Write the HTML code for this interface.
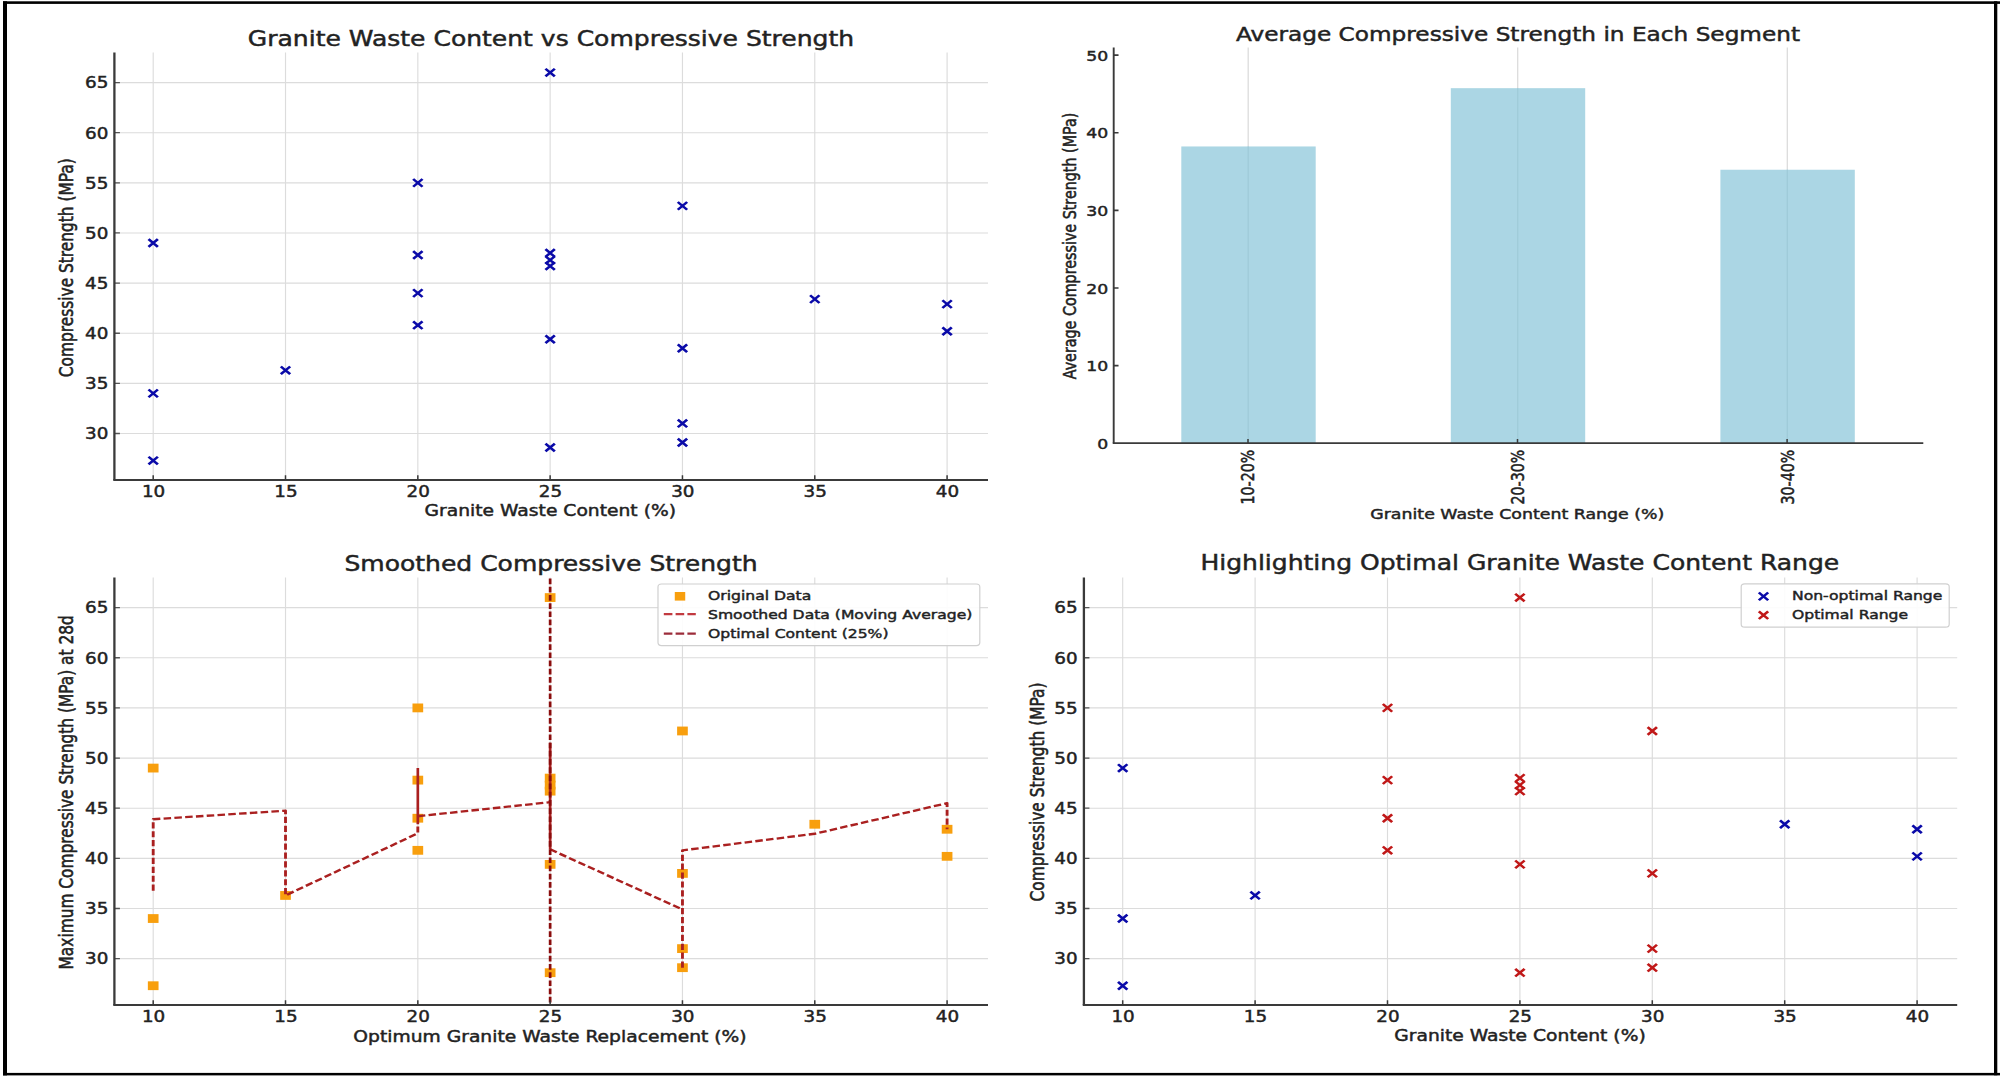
<!DOCTYPE html>
<html lang="en"><head><meta charset="utf-8"><title>Granite Waste Content vs Compressive Strength</title>
<style>html,body{margin:0;padding:0;background:#fff}body{width:2000px;height:1078px;overflow:hidden}svg{display:block}svg text{font-family:"DejaVu Sans", "Liberation Sans", sans-serif;}</style></head><body>
<svg width="2000" height="1078" viewBox="0 0 2000 1078">
<rect x="0" y="0" width="2000" height="1078" fill="#ffffff"/>
<g id="charts">
<path d="M153.20,52.6V480.0M285.51,52.6V480.0M417.83,52.6V480.0M550.14,52.6V480.0M682.46,52.6V480.0M814.78,52.6V480.0M947.09,52.6V480.0M114.4,433.48H988.0M114.4,383.35H988.0M114.4,333.23H988.0M114.4,283.10H988.0M114.4,232.97H988.0M114.4,182.85H988.0M114.4,132.72H988.0M114.4,82.60H988.0" stroke="#dcdcdc" stroke-width="1.15" fill="none"/>
<path transform="translate(153.20,243.00) scale(1.215,1)" d="M-3.85,-3.85L3.85,3.85M-3.85,3.85L3.85,-3.85" stroke="#0a0aa8" stroke-width="2.3" fill="none"/>
<path transform="translate(153.20,393.38) scale(1.215,1)" d="M-3.85,-3.85L3.85,3.85M-3.85,3.85L3.85,-3.85" stroke="#0a0aa8" stroke-width="2.3" fill="none"/>
<path transform="translate(153.20,460.54) scale(1.215,1)" d="M-3.85,-3.85L3.85,3.85M-3.85,3.85L3.85,-3.85" stroke="#0a0aa8" stroke-width="2.3" fill="none"/>
<path transform="translate(285.51,370.32) scale(1.215,1)" d="M-3.85,-3.85L3.85,3.85M-3.85,3.85L3.85,-3.85" stroke="#0a0aa8" stroke-width="2.3" fill="none"/>
<path transform="translate(417.83,182.85) scale(1.215,1)" d="M-3.85,-3.85L3.85,3.85M-3.85,3.85L3.85,-3.85" stroke="#0a0aa8" stroke-width="2.3" fill="none"/>
<path transform="translate(417.83,255.03) scale(1.215,1)" d="M-3.85,-3.85L3.85,3.85M-3.85,3.85L3.85,-3.85" stroke="#0a0aa8" stroke-width="2.3" fill="none"/>
<path transform="translate(417.83,293.12) scale(1.215,1)" d="M-3.85,-3.85L3.85,3.85M-3.85,3.85L3.85,-3.85" stroke="#0a0aa8" stroke-width="2.3" fill="none"/>
<path transform="translate(417.83,325.21) scale(1.215,1)" d="M-3.85,-3.85L3.85,3.85M-3.85,3.85L3.85,-3.85" stroke="#0a0aa8" stroke-width="2.3" fill="none"/>
<path transform="translate(550.14,72.57) scale(1.215,1)" d="M-3.85,-3.85L3.85,3.85M-3.85,3.85L3.85,-3.85" stroke="#0a0aa8" stroke-width="2.3" fill="none"/>
<path transform="translate(550.14,253.03) scale(1.215,1)" d="M-3.85,-3.85L3.85,3.85M-3.85,3.85L3.85,-3.85" stroke="#0a0aa8" stroke-width="2.3" fill="none"/>
<path transform="translate(550.14,260.04) scale(1.215,1)" d="M-3.85,-3.85L3.85,3.85M-3.85,3.85L3.85,-3.85" stroke="#0a0aa8" stroke-width="2.3" fill="none"/>
<path transform="translate(550.14,266.06) scale(1.215,1)" d="M-3.85,-3.85L3.85,3.85M-3.85,3.85L3.85,-3.85" stroke="#0a0aa8" stroke-width="2.3" fill="none"/>
<path transform="translate(550.14,339.24) scale(1.215,1)" d="M-3.85,-3.85L3.85,3.85M-3.85,3.85L3.85,-3.85" stroke="#0a0aa8" stroke-width="2.3" fill="none"/>
<path transform="translate(550.14,447.51) scale(1.215,1)" d="M-3.85,-3.85L3.85,3.85M-3.85,3.85L3.85,-3.85" stroke="#0a0aa8" stroke-width="2.3" fill="none"/>
<path transform="translate(682.46,205.91) scale(1.215,1)" d="M-3.85,-3.85L3.85,3.85M-3.85,3.85L3.85,-3.85" stroke="#0a0aa8" stroke-width="2.3" fill="none"/>
<path transform="translate(682.46,348.26) scale(1.215,1)" d="M-3.85,-3.85L3.85,3.85M-3.85,3.85L3.85,-3.85" stroke="#0a0aa8" stroke-width="2.3" fill="none"/>
<path transform="translate(682.46,423.45) scale(1.215,1)" d="M-3.85,-3.85L3.85,3.85M-3.85,3.85L3.85,-3.85" stroke="#0a0aa8" stroke-width="2.3" fill="none"/>
<path transform="translate(682.46,442.50) scale(1.215,1)" d="M-3.85,-3.85L3.85,3.85M-3.85,3.85L3.85,-3.85" stroke="#0a0aa8" stroke-width="2.3" fill="none"/>
<path transform="translate(814.78,299.14) scale(1.215,1)" d="M-3.85,-3.85L3.85,3.85M-3.85,3.85L3.85,-3.85" stroke="#0a0aa8" stroke-width="2.3" fill="none"/>
<path transform="translate(947.09,304.15) scale(1.215,1)" d="M-3.85,-3.85L3.85,3.85M-3.85,3.85L3.85,-3.85" stroke="#0a0aa8" stroke-width="2.3" fill="none"/>
<path transform="translate(947.09,331.22) scale(1.215,1)" d="M-3.85,-3.85L3.85,3.85M-3.85,3.85L3.85,-3.85" stroke="#0a0aa8" stroke-width="2.3" fill="none"/>
<path d="M153.20,480.0v-4.8M285.51,480.0v-4.8M417.83,480.0v-4.8M550.14,480.0v-4.8M682.46,480.0v-4.8M814.78,480.0v-4.8M947.09,480.0v-4.8" stroke="#3a3a3a" stroke-width="1.5" fill="none"/>
<path d="M114.4,433.48h5.52M114.4,383.35h5.52M114.4,333.23h5.52M114.4,283.10h5.52M114.4,232.97h5.52M114.4,182.85h5.52M114.4,132.72h5.52M114.4,82.60h5.52" stroke="#555" stroke-width="1.3" fill="none"/>
<path d="M114.4,52.6V480.0" stroke="#3a3a3a" stroke-width="2.3" fill="none"/>
<path d="M113.25,480.0H988.0" stroke="#3a3a3a" stroke-width="1.9" fill="none"/>
<text transform="translate(153.60,496.80) scale(1.16,1)" font-size="15.8" text-anchor="middle" fill="#222" stroke="#222" stroke-width="0.45">10</text>
<text transform="translate(285.91,496.80) scale(1.16,1)" font-size="15.8" text-anchor="middle" fill="#222" stroke="#222" stroke-width="0.45">15</text>
<text transform="translate(418.23,496.80) scale(1.16,1)" font-size="15.8" text-anchor="middle" fill="#222" stroke="#222" stroke-width="0.45">20</text>
<text transform="translate(550.54,496.80) scale(1.16,1)" font-size="15.8" text-anchor="middle" fill="#222" stroke="#222" stroke-width="0.45">25</text>
<text transform="translate(682.86,496.80) scale(1.16,1)" font-size="15.8" text-anchor="middle" fill="#222" stroke="#222" stroke-width="0.45">30</text>
<text transform="translate(815.18,496.80) scale(1.16,1)" font-size="15.8" text-anchor="middle" fill="#222" stroke="#222" stroke-width="0.45">35</text>
<text transform="translate(947.49,496.80) scale(1.16,1)" font-size="15.8" text-anchor="middle" fill="#222" stroke="#222" stroke-width="0.45">40</text>
<text transform="translate(108.30,439.28) scale(1.16,1)" font-size="15.8" text-anchor="end" fill="#222" stroke="#222" stroke-width="0.45">30</text>
<text transform="translate(108.30,389.15) scale(1.16,1)" font-size="15.8" text-anchor="end" fill="#222" stroke="#222" stroke-width="0.45">35</text>
<text transform="translate(108.30,339.03) scale(1.16,1)" font-size="15.8" text-anchor="end" fill="#222" stroke="#222" stroke-width="0.45">40</text>
<text transform="translate(108.30,288.90) scale(1.16,1)" font-size="15.8" text-anchor="end" fill="#222" stroke="#222" stroke-width="0.45">45</text>
<text transform="translate(108.30,238.78) scale(1.16,1)" font-size="15.8" text-anchor="end" fill="#222" stroke="#222" stroke-width="0.45">50</text>
<text transform="translate(108.30,188.65) scale(1.16,1)" font-size="15.8" text-anchor="end" fill="#222" stroke="#222" stroke-width="0.45">55</text>
<text transform="translate(108.30,138.53) scale(1.16,1)" font-size="15.8" text-anchor="end" fill="#222" stroke="#222" stroke-width="0.45">60</text>
<text transform="translate(108.30,88.40) scale(1.16,1)" font-size="15.8" text-anchor="end" fill="#222" stroke="#222" stroke-width="0.45">65</text>
<text transform="translate(551.00,45.50) scale(1.215,1)" font-size="20.6" text-anchor="middle" fill="#222" stroke="#222" stroke-width="0.45">Granite Waste Content vs Compressive Strength</text>
<text transform="translate(550.30,516.00) scale(1.215,1)" font-size="15.4" text-anchor="middle" fill="#222" stroke="#222" stroke-width="0.45">Granite Waste Content (%)</text>
<text transform="translate(72.80,267.70) scale(1.215,1) rotate(-90)" font-size="15.4" text-anchor="middle" fill="#222" stroke="#222" stroke-width="0.45">Compressive Strength (MPa)</text>
<path d="M1248.20,47.6V443.2M1517.70,47.6V443.2M1787.30,47.6V443.2" stroke="#dcdcdc" stroke-width="1.3" fill="none"/>
<rect x="1181.30" y="146.46" width="134.40" height="296.74" fill="#abd6e4"/>
<rect x="1450.80" y="88.17" width="134.40" height="355.03" fill="#abd6e4"/>
<rect x="1720.40" y="169.74" width="134.40" height="273.46" fill="#abd6e4"/>
<path d="M1248.20,146.46V443.2M1517.70,88.17V443.2M1787.30,169.74V443.2" stroke="#9fcbd9" stroke-width="1.3" fill="none"/>
<path d="M1248.00,443.2v-4.2M1517.50,443.2v-4.2M1787.10,443.2v-4.2" stroke="#3a3a3a" stroke-width="1.5" fill="none"/>
<path d="M1113.7,365.58h4.83M1113.7,287.96h4.83M1113.7,210.34h4.83M1113.7,132.72h4.83M1113.7,55.10h4.83" stroke="#3a3a3a" stroke-width="1.6" fill="none"/>
<path d="M1113.7,47.6V443.2" stroke="#3a3a3a" stroke-width="1.9" fill="none"/>
<path d="M1112.75,443.2H1923.3" stroke="#3a3a3a" stroke-width="1.8" fill="none"/>
<text transform="translate(1108.30,448.90) scale(1.215,1)" font-size="14.2" text-anchor="end" fill="#222" stroke="#222" stroke-width="0.45">0</text>
<text transform="translate(1108.30,371.28) scale(1.215,1)" font-size="14.2" text-anchor="end" fill="#222" stroke="#222" stroke-width="0.45">10</text>
<text transform="translate(1108.30,293.66) scale(1.215,1)" font-size="14.2" text-anchor="end" fill="#222" stroke="#222" stroke-width="0.45">20</text>
<text transform="translate(1108.30,216.04) scale(1.215,1)" font-size="14.2" text-anchor="end" fill="#222" stroke="#222" stroke-width="0.45">30</text>
<text transform="translate(1108.30,138.42) scale(1.215,1)" font-size="14.2" text-anchor="end" fill="#222" stroke="#222" stroke-width="0.45">40</text>
<text transform="translate(1108.30,60.80) scale(1.215,1)" font-size="14.2" text-anchor="end" fill="#222" stroke="#222" stroke-width="0.45">50</text>
<text transform="translate(1254.40,449.80) scale(1.215,1) rotate(-90)" font-size="14.2" text-anchor="end" fill="#222" stroke="#222" stroke-width="0.45">10-20%</text>
<text transform="translate(1523.90,449.80) scale(1.215,1) rotate(-90)" font-size="14.2" text-anchor="end" fill="#222" stroke="#222" stroke-width="0.45">20-30%</text>
<text transform="translate(1793.50,449.80) scale(1.215,1) rotate(-90)" font-size="14.2" text-anchor="end" fill="#222" stroke="#222" stroke-width="0.45">30-40%</text>
<text transform="translate(1518.00,41.30) scale(1.215,1)" font-size="19.1" text-anchor="middle" fill="#222" stroke="#222" stroke-width="0.45">Average Compressive Strength in Each Segment</text>
<text transform="translate(1517.30,518.70) scale(1.215,1)" font-size="14.3" text-anchor="middle" fill="#222" stroke="#222" stroke-width="0.45">Granite Waste Content Range (%)</text>
<text transform="translate(1076.10,246.00) scale(1.215,1) rotate(-90)" font-size="14.3" text-anchor="middle" fill="#222" stroke="#222" stroke-width="0.45">Average Compressive Strength (MPa)</text>
<path d="M153.20,577.6V1005.0M285.51,577.6V1005.0M417.83,577.6V1005.0M550.14,577.6V1005.0M682.46,577.6V1005.0M814.78,577.6V1005.0M947.09,577.6V1005.0M114.4,958.65H988.0M114.4,908.50H988.0M114.4,858.35H988.0M114.4,808.20H988.0M114.4,758.05H988.0M114.4,707.90H988.0M114.4,657.75H988.0M114.4,607.60H988.0" stroke="#dcdcdc" stroke-width="1.15" fill="none"/>
<rect x="147.85" y="763.68" width="10.69" height="8.80" fill="#f89f0e"/>
<rect x="147.85" y="914.13" width="10.69" height="8.80" fill="#f89f0e"/>
<rect x="147.85" y="981.33" width="10.69" height="8.80" fill="#f89f0e"/>
<rect x="280.17" y="891.06" width="10.69" height="8.80" fill="#f89f0e"/>
<rect x="412.48" y="703.50" width="10.69" height="8.80" fill="#f89f0e"/>
<rect x="412.48" y="775.72" width="10.69" height="8.80" fill="#f89f0e"/>
<rect x="412.48" y="813.83" width="10.69" height="8.80" fill="#f89f0e"/>
<rect x="412.48" y="845.93" width="10.69" height="8.80" fill="#f89f0e"/>
<rect x="544.80" y="593.17" width="10.69" height="8.80" fill="#f89f0e"/>
<rect x="544.80" y="773.71" width="10.69" height="8.80" fill="#f89f0e"/>
<rect x="544.80" y="780.73" width="10.69" height="8.80" fill="#f89f0e"/>
<rect x="544.80" y="786.75" width="10.69" height="8.80" fill="#f89f0e"/>
<rect x="544.80" y="859.97" width="10.69" height="8.80" fill="#f89f0e"/>
<rect x="544.80" y="968.29" width="10.69" height="8.80" fill="#f89f0e"/>
<rect x="677.11" y="726.57" width="10.69" height="8.80" fill="#f89f0e"/>
<rect x="677.11" y="869.00" width="10.69" height="8.80" fill="#f89f0e"/>
<rect x="677.11" y="944.22" width="10.69" height="8.80" fill="#f89f0e"/>
<rect x="677.11" y="963.28" width="10.69" height="8.80" fill="#f89f0e"/>
<rect x="809.43" y="819.85" width="10.69" height="8.80" fill="#f89f0e"/>
<rect x="941.74" y="824.86" width="10.69" height="8.80" fill="#f89f0e"/>
<rect x="941.74" y="851.94" width="10.69" height="8.80" fill="#f89f0e"/>
<path transform="scale(1.215,1)" d="M126.09,890.75L126.09,819.23L234.99,810.71L234.99,895.46L343.89,833.27L343.89,824.25M343.89,816.22L452.79,802.18M452.79,849.32L561.70,909.50M561.70,967.68L561.70,850.33L670.60,833.78L779.50,803.18L779.50,829.26" stroke="#aa2020" stroke-width="2.35" stroke-dasharray="6.2 2.7" fill="none" stroke-linejoin="round"/>
<path transform="scale(1.215,1)" d="M343.89,768.08V824.25M452.79,743.00V849.32" stroke="#aa2020" stroke-width="2.2" fill="none"/>
<path d="M550.14,578.6V1005.0" stroke="#8a0c0c" stroke-width="2.7" stroke-dasharray="5.7 2.5" fill="none"/>
<path d="M153.20,1005.0v-4.8M285.51,1005.0v-4.8M417.83,1005.0v-4.8M550.14,1005.0v-4.8M682.46,1005.0v-4.8M814.78,1005.0v-4.8M947.09,1005.0v-4.8" stroke="#3a3a3a" stroke-width="1.5" fill="none"/>
<path d="M114.4,958.65h5.52M114.4,908.50h5.52M114.4,858.35h5.52M114.4,808.20h5.52M114.4,758.05h5.52M114.4,707.90h5.52M114.4,657.75h5.52M114.4,607.60h5.52" stroke="#555" stroke-width="1.3" fill="none"/>
<path d="M114.4,577.6V1005.0" stroke="#3a3a3a" stroke-width="2.3" fill="none"/>
<path d="M113.25,1005.0H988.0" stroke="#3a3a3a" stroke-width="1.9" fill="none"/>
<text transform="translate(153.60,1021.80) scale(1.16,1)" font-size="15.8" text-anchor="middle" fill="#222" stroke="#222" stroke-width="0.45">10</text>
<text transform="translate(285.91,1021.80) scale(1.16,1)" font-size="15.8" text-anchor="middle" fill="#222" stroke="#222" stroke-width="0.45">15</text>
<text transform="translate(418.23,1021.80) scale(1.16,1)" font-size="15.8" text-anchor="middle" fill="#222" stroke="#222" stroke-width="0.45">20</text>
<text transform="translate(550.54,1021.80) scale(1.16,1)" font-size="15.8" text-anchor="middle" fill="#222" stroke="#222" stroke-width="0.45">25</text>
<text transform="translate(682.86,1021.80) scale(1.16,1)" font-size="15.8" text-anchor="middle" fill="#222" stroke="#222" stroke-width="0.45">30</text>
<text transform="translate(815.18,1021.80) scale(1.16,1)" font-size="15.8" text-anchor="middle" fill="#222" stroke="#222" stroke-width="0.45">35</text>
<text transform="translate(947.49,1021.80) scale(1.16,1)" font-size="15.8" text-anchor="middle" fill="#222" stroke="#222" stroke-width="0.45">40</text>
<text transform="translate(108.30,964.45) scale(1.16,1)" font-size="15.8" text-anchor="end" fill="#222" stroke="#222" stroke-width="0.45">30</text>
<text transform="translate(108.30,914.30) scale(1.16,1)" font-size="15.8" text-anchor="end" fill="#222" stroke="#222" stroke-width="0.45">35</text>
<text transform="translate(108.30,864.15) scale(1.16,1)" font-size="15.8" text-anchor="end" fill="#222" stroke="#222" stroke-width="0.45">40</text>
<text transform="translate(108.30,814.00) scale(1.16,1)" font-size="15.8" text-anchor="end" fill="#222" stroke="#222" stroke-width="0.45">45</text>
<text transform="translate(108.30,763.85) scale(1.16,1)" font-size="15.8" text-anchor="end" fill="#222" stroke="#222" stroke-width="0.45">50</text>
<text transform="translate(108.30,713.70) scale(1.16,1)" font-size="15.8" text-anchor="end" fill="#222" stroke="#222" stroke-width="0.45">55</text>
<text transform="translate(108.30,663.55) scale(1.16,1)" font-size="15.8" text-anchor="end" fill="#222" stroke="#222" stroke-width="0.45">60</text>
<text transform="translate(108.30,613.40) scale(1.16,1)" font-size="15.8" text-anchor="end" fill="#222" stroke="#222" stroke-width="0.45">65</text>
<text transform="translate(551.00,570.50) scale(1.215,1)" font-size="20.6" text-anchor="middle" fill="#222" stroke="#222" stroke-width="0.45">Smoothed Compressive Strength</text>
<text transform="translate(550.00,1041.70) scale(1.215,1)" font-size="15.4" text-anchor="middle" fill="#222" stroke="#222" stroke-width="0.45">Optimum Granite Waste Replacement (%)</text>
<text transform="translate(72.50,792.30) scale(1.215,1) rotate(-90)" font-size="15.4" text-anchor="middle" fill="#222" stroke="#222" stroke-width="0.45">Maximum Compressive Strength (MPa) at 28d</text>
<rect x="658" y="584" width="321.8" height="61.6" rx="3.5" ry="3" fill="#ffffff" fill-opacity="0.9" stroke="#d0d0d0" stroke-width="1.2"/>
<rect x="674.78" y="592.00" width="10.45" height="8.60" fill="#f89f0e"/>
<path d="M663.8,614.2H695.8" stroke="#c23a40" stroke-width="2.3" stroke-dasharray="8.6 3.2" fill="none"/>
<path d="M663.8,633.6H695.8" stroke="#9c2c3a" stroke-width="2.3" stroke-dasharray="8.6 3.2" fill="none"/>
<text transform="translate(708.00,599.70) scale(1.215,1)" font-size="12.85" text-anchor="start" fill="#222" stroke="#222" stroke-width="0.45">Original Data</text>
<text transform="translate(708.00,619.30) scale(1.215,1)" font-size="12.85" text-anchor="start" fill="#222" stroke="#222" stroke-width="0.45">Smoothed Data (Moving Average)</text>
<text transform="translate(708.00,638.10) scale(1.215,1)" font-size="12.85" text-anchor="start" fill="#222" stroke="#222" stroke-width="0.45">Optimal Content (25%)</text>
<path d="M1122.70,577.6V1005.0M1255.10,577.6V1005.0M1387.50,577.6V1005.0M1519.90,577.6V1005.0M1652.30,577.6V1005.0M1784.70,577.6V1005.0M1917.10,577.6V1005.0M1083.9,958.65H1957.2M1083.9,908.50H1957.2M1083.9,858.35H1957.2M1083.9,808.20H1957.2M1083.9,758.05H1957.2M1083.9,707.90H1957.2M1083.9,657.75H1957.2M1083.9,607.60H1957.2" stroke="#dcdcdc" stroke-width="1.15" fill="none"/>
<path transform="translate(1122.70,768.08) scale(1.215,1)" d="M-3.85,-3.85L3.85,3.85M-3.85,3.85L3.85,-3.85" stroke="#0a0aa8" stroke-width="2.3" fill="none"/>
<path transform="translate(1122.70,918.53) scale(1.215,1)" d="M-3.85,-3.85L3.85,3.85M-3.85,3.85L3.85,-3.85" stroke="#0a0aa8" stroke-width="2.3" fill="none"/>
<path transform="translate(1122.70,985.73) scale(1.215,1)" d="M-3.85,-3.85L3.85,3.85M-3.85,3.85L3.85,-3.85" stroke="#0a0aa8" stroke-width="2.3" fill="none"/>
<path transform="translate(1255.10,895.46) scale(1.215,1)" d="M-3.85,-3.85L3.85,3.85M-3.85,3.85L3.85,-3.85" stroke="#0a0aa8" stroke-width="2.3" fill="none"/>
<path transform="translate(1387.50,707.90) scale(1.215,1)" d="M-3.85,-3.85L3.85,3.85M-3.85,3.85L3.85,-3.85" stroke="#c01818" stroke-width="2.3" fill="none"/>
<path transform="translate(1387.50,780.12) scale(1.215,1)" d="M-3.85,-3.85L3.85,3.85M-3.85,3.85L3.85,-3.85" stroke="#c01818" stroke-width="2.3" fill="none"/>
<path transform="translate(1387.50,818.23) scale(1.215,1)" d="M-3.85,-3.85L3.85,3.85M-3.85,3.85L3.85,-3.85" stroke="#c01818" stroke-width="2.3" fill="none"/>
<path transform="translate(1387.50,850.33) scale(1.215,1)" d="M-3.85,-3.85L3.85,3.85M-3.85,3.85L3.85,-3.85" stroke="#c01818" stroke-width="2.3" fill="none"/>
<path transform="translate(1519.90,597.57) scale(1.215,1)" d="M-3.85,-3.85L3.85,3.85M-3.85,3.85L3.85,-3.85" stroke="#c01818" stroke-width="2.3" fill="none"/>
<path transform="translate(1519.90,778.11) scale(1.215,1)" d="M-3.85,-3.85L3.85,3.85M-3.85,3.85L3.85,-3.85" stroke="#c01818" stroke-width="2.3" fill="none"/>
<path transform="translate(1519.90,785.13) scale(1.215,1)" d="M-3.85,-3.85L3.85,3.85M-3.85,3.85L3.85,-3.85" stroke="#c01818" stroke-width="2.3" fill="none"/>
<path transform="translate(1519.90,791.15) scale(1.215,1)" d="M-3.85,-3.85L3.85,3.85M-3.85,3.85L3.85,-3.85" stroke="#c01818" stroke-width="2.3" fill="none"/>
<path transform="translate(1519.90,864.37) scale(1.215,1)" d="M-3.85,-3.85L3.85,3.85M-3.85,3.85L3.85,-3.85" stroke="#c01818" stroke-width="2.3" fill="none"/>
<path transform="translate(1519.90,972.69) scale(1.215,1)" d="M-3.85,-3.85L3.85,3.85M-3.85,3.85L3.85,-3.85" stroke="#c01818" stroke-width="2.3" fill="none"/>
<path transform="translate(1652.30,730.97) scale(1.215,1)" d="M-3.85,-3.85L3.85,3.85M-3.85,3.85L3.85,-3.85" stroke="#c01818" stroke-width="2.3" fill="none"/>
<path transform="translate(1652.30,873.39) scale(1.215,1)" d="M-3.85,-3.85L3.85,3.85M-3.85,3.85L3.85,-3.85" stroke="#c01818" stroke-width="2.3" fill="none"/>
<path transform="translate(1652.30,948.62) scale(1.215,1)" d="M-3.85,-3.85L3.85,3.85M-3.85,3.85L3.85,-3.85" stroke="#c01818" stroke-width="2.3" fill="none"/>
<path transform="translate(1652.30,967.68) scale(1.215,1)" d="M-3.85,-3.85L3.85,3.85M-3.85,3.85L3.85,-3.85" stroke="#c01818" stroke-width="2.3" fill="none"/>
<path transform="translate(1784.70,824.25) scale(1.215,1)" d="M-3.85,-3.85L3.85,3.85M-3.85,3.85L3.85,-3.85" stroke="#0a0aa8" stroke-width="2.3" fill="none"/>
<path transform="translate(1917.10,829.26) scale(1.215,1)" d="M-3.85,-3.85L3.85,3.85M-3.85,3.85L3.85,-3.85" stroke="#0a0aa8" stroke-width="2.3" fill="none"/>
<path transform="translate(1917.10,856.34) scale(1.215,1)" d="M-3.85,-3.85L3.85,3.85M-3.85,3.85L3.85,-3.85" stroke="#0a0aa8" stroke-width="2.3" fill="none"/>
<path d="M1122.70,1005.0v-4.8M1255.10,1005.0v-4.8M1387.50,1005.0v-4.8M1519.90,1005.0v-4.8M1652.30,1005.0v-4.8M1784.70,1005.0v-4.8M1917.10,1005.0v-4.8" stroke="#3a3a3a" stroke-width="1.5" fill="none"/>
<path d="M1083.9,958.65h5.52M1083.9,908.50h5.52M1083.9,858.35h5.52M1083.9,808.20h5.52M1083.9,758.05h5.52M1083.9,707.90h5.52M1083.9,657.75h5.52M1083.9,607.60h5.52" stroke="#555" stroke-width="1.3" fill="none"/>
<path d="M1083.9,577.6V1005.0" stroke="#3a3a3a" stroke-width="2.3" fill="none"/>
<path d="M1082.75,1005.0H1957.2" stroke="#3a3a3a" stroke-width="1.9" fill="none"/>
<text transform="translate(1123.10,1021.80) scale(1.16,1)" font-size="15.8" text-anchor="middle" fill="#222" stroke="#222" stroke-width="0.45">10</text>
<text transform="translate(1255.50,1021.80) scale(1.16,1)" font-size="15.8" text-anchor="middle" fill="#222" stroke="#222" stroke-width="0.45">15</text>
<text transform="translate(1387.90,1021.80) scale(1.16,1)" font-size="15.8" text-anchor="middle" fill="#222" stroke="#222" stroke-width="0.45">20</text>
<text transform="translate(1520.30,1021.80) scale(1.16,1)" font-size="15.8" text-anchor="middle" fill="#222" stroke="#222" stroke-width="0.45">25</text>
<text transform="translate(1652.70,1021.80) scale(1.16,1)" font-size="15.8" text-anchor="middle" fill="#222" stroke="#222" stroke-width="0.45">30</text>
<text transform="translate(1785.10,1021.80) scale(1.16,1)" font-size="15.8" text-anchor="middle" fill="#222" stroke="#222" stroke-width="0.45">35</text>
<text transform="translate(1917.50,1021.80) scale(1.16,1)" font-size="15.8" text-anchor="middle" fill="#222" stroke="#222" stroke-width="0.45">40</text>
<text transform="translate(1077.60,964.45) scale(1.16,1)" font-size="15.8" text-anchor="end" fill="#222" stroke="#222" stroke-width="0.45">30</text>
<text transform="translate(1077.60,914.30) scale(1.16,1)" font-size="15.8" text-anchor="end" fill="#222" stroke="#222" stroke-width="0.45">35</text>
<text transform="translate(1077.60,864.15) scale(1.16,1)" font-size="15.8" text-anchor="end" fill="#222" stroke="#222" stroke-width="0.45">40</text>
<text transform="translate(1077.60,814.00) scale(1.16,1)" font-size="15.8" text-anchor="end" fill="#222" stroke="#222" stroke-width="0.45">45</text>
<text transform="translate(1077.60,763.85) scale(1.16,1)" font-size="15.8" text-anchor="end" fill="#222" stroke="#222" stroke-width="0.45">50</text>
<text transform="translate(1077.60,713.70) scale(1.16,1)" font-size="15.8" text-anchor="end" fill="#222" stroke="#222" stroke-width="0.45">55</text>
<text transform="translate(1077.60,663.55) scale(1.16,1)" font-size="15.8" text-anchor="end" fill="#222" stroke="#222" stroke-width="0.45">60</text>
<text transform="translate(1077.60,613.40) scale(1.16,1)" font-size="15.8" text-anchor="end" fill="#222" stroke="#222" stroke-width="0.45">65</text>
<text transform="translate(1519.80,569.50) scale(1.215,1)" font-size="20.6" text-anchor="middle" fill="#222" stroke="#222" stroke-width="0.45">Highlighting Optimal Granite Waste Content Range</text>
<text transform="translate(1520.00,1041.30) scale(1.215,1)" font-size="15.4" text-anchor="middle" fill="#222" stroke="#222" stroke-width="0.45">Granite Waste Content (%)</text>
<text transform="translate(1043.50,792.00) scale(1.215,1) rotate(-90)" font-size="15.4" text-anchor="middle" fill="#222" stroke="#222" stroke-width="0.45">Compressive Strength (MPa)</text>
<rect x="1741.2" y="583.8" width="208" height="43.4" rx="3.5" ry="3" fill="#ffffff" fill-opacity="0.9" stroke="#d0d0d0" stroke-width="1.2"/>
<path transform="translate(1763.50,596.40) scale(1.215,1)" d="M-3.85,-3.85L3.85,3.85M-3.85,3.85L3.85,-3.85" stroke="#0a0aa8" stroke-width="2.3" fill="none"/>
<path transform="translate(1763.50,615.20) scale(1.215,1)" d="M-3.85,-3.85L3.85,3.85M-3.85,3.85L3.85,-3.85" stroke="#c01818" stroke-width="2.3" fill="none"/>
<text transform="translate(1792.00,600.00) scale(1.215,1)" font-size="12.85" text-anchor="start" fill="#222" stroke="#222" stroke-width="0.45">Non-optimal Range</text>
<text transform="translate(1792.00,619.40) scale(1.215,1)" font-size="12.85" text-anchor="start" fill="#222" stroke="#222" stroke-width="0.45">Optimal Range</text>
</g>
<g id="frame" fill="#000">
<rect x="3" y="1.3" width="1997" height="2.6"/>
<rect x="3" y="1.3" width="4" height="1074.1"/>
<rect x="1994" y="1.3" width="3.3" height="1074"/>
<rect x="3" y="1072.9" width="1997" height="2.5"/>
</g>
</svg></body></html>
